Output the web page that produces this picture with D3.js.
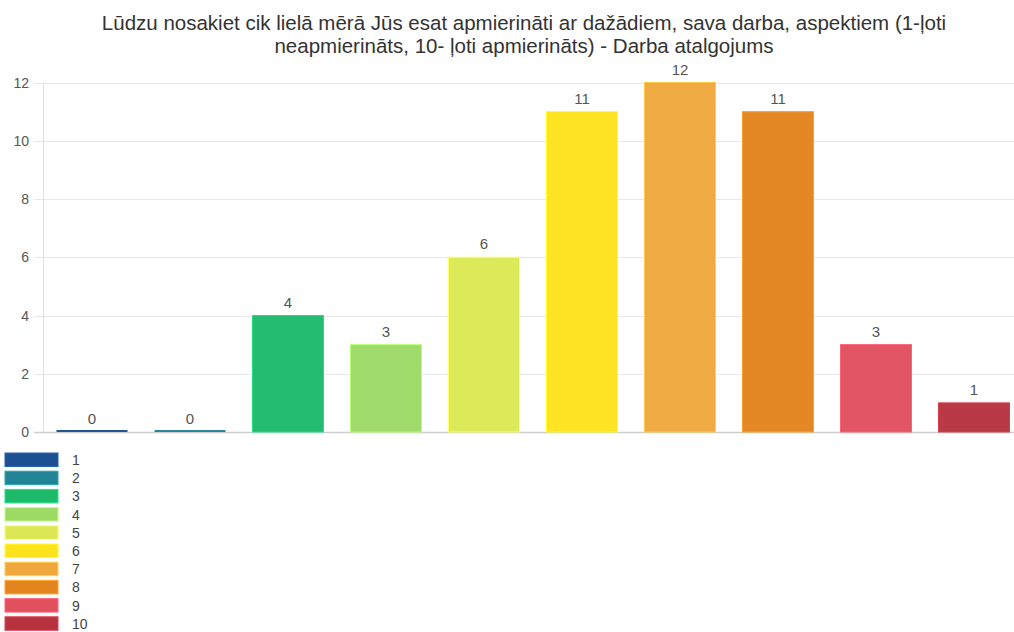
<!DOCTYPE html>
<html>
<head>
<meta charset="utf-8">
<script src="https://cdn.jsdelivr.net/npm/d3@7"></script>
<style>
  html, body { margin: 0; padding: 0; background: #fff; }
  svg { display: block; font-family: Arial, "Liberation Sans", sans-serif; }
</style>
</head>
<body>
<svg id="chart" width="1014" height="632"></svg>
<script>
// Survey answers: satisfaction with pay, scale 1–10
const categories = ["1", "2", "3", "4", "5", "6", "7", "8", "9", "10"];
const counts = [0, 0, 4, 3, 6, 11, 12, 11, 3, 1];
const colors = ["#1c5092", "#228494", "#1dba6c", "#9dd965", "#dbe854", "#fee31c",
                "#f0a83e", "#e3841f", "#e0505f", "#b73340"];
const yTicks = [0, 2, 4, 6, 8, 10, 12];
const titleLines = [
  "Lūdzu nosakiet cik lielā mērā Jūs esat apmierināti ar dažādiem, sava darba, aspektiem (1-ļoti",
  "neapmierināts, 10- ļoti apmierināts) - Darba atalgojums"
];

const W = 1014, H = 632;
const svg = d3.select("#chart");

const x = d3.scaleBand().domain(categories).range([43, 1023]).paddingInner(0.276).paddingOuter(0.138);
const y = d3.scaleLinear().domain([0, 12]).range([432, 82.5]);

// title
svg.append("g").selectAll("text").data(titleLines).join("text")
  .attr("x", 524).attr("y", (d, i) => 30 + i * 22.5)
  .attr("text-anchor", "middle")
  .attr("font-size", 20.5).attr("fill", "#333")
  .text(d => d);

// grid lines
svg.append("g").selectAll("line").data(yTicks).join("line")
  .attr("x1", 34).attr("x2", W)
  .attr("y1", d => Math.round(y(d)) + 0.5).attr("y2", d => Math.round(y(d)) + 0.5)
  .attr("stroke", d => d === 0 ? "#cfcfcf" : "#e8e8e8").attr("stroke-width", d => d === 0 ? 1.5 : 1);

// y axis line
svg.append("line").attr("x1", 43.5).attr("x2", 43.5).attr("y1", y(12)).attr("y2", y(0))
  .attr("stroke", "#e0e0e0");

// y tick labels
svg.append("g").selectAll("text").data(yTicks).join("text")
  .attr("x", 29).attr("y", d => y(d) + 5)
  .attr("text-anchor", "end").attr("font-size", 14).attr("fill", "#555")
  .text(d => d);

// bars (zero values still shown as a thin line)
svg.append("g").selectAll("rect").data(counts).join("rect")
  .attr("x", (d, i) => x(categories[i]))
  .attr("width", x.bandwidth())
  .attr("y", d => d === 0 ? y(0) - 2 : y(d))
  .attr("height", d => d === 0 ? 2 : y(0) - y(d))
  .attr("fill", (d, i) => colors[i])
  .attr("stroke", (d, i) => d3.color(colors[i]).brighter(0.5))
  .attr("stroke-width", d => d === 0 ? 0 : 1)
  .attr("fill-opacity", 0.97);

// value labels
svg.append("g").selectAll("text").data(counts).join("text")
  .attr("x", (d, i) => x(categories[i]) + x.bandwidth() / 2)
  .attr("y", d => y(d) - 8)
  .attr("text-anchor", "middle").attr("font-size", 15).attr("fill", "#555")
  .text(d => d);

// legend
const leg = svg.append("g").selectAll("g").data(categories).join("g")
  .attr("transform", (d, i) => `translate(5, ${453 + i * 18.2})`);
leg.append("rect").attr("width", 53).attr("height", 13.5)
  .attr("fill", (d, i) => colors[i])
  .attr("stroke", (d, i) => d3.color(colors[i]).brighter(0.6)).attr("stroke-width", 1);
leg.append("text").attr("x", 67).attr("y", 12).attr("font-size", 14).attr("fill", "#444")
  .text(d => d);
</script>
</body>
</html>
